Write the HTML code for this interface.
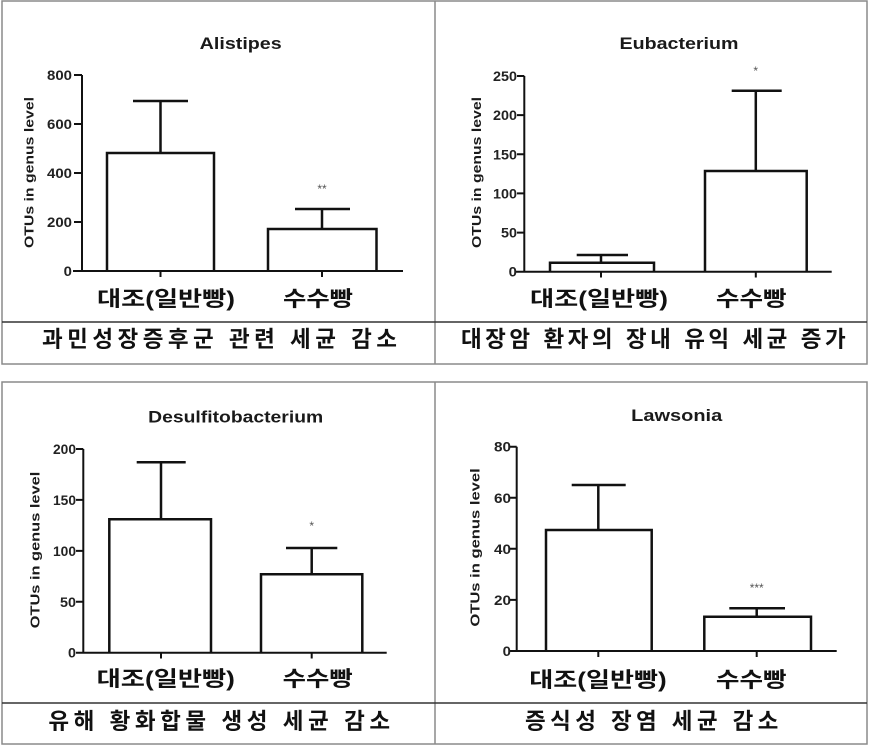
<!DOCTYPE html>
<html>
<head>
<meta charset="utf-8">
<style>
  html,body{margin:0;padding:0;background:#fff;}
  svg{display:block;}
  .t{font-family:"Liberation Sans",Arial,sans-serif;font-weight:bold;fill:#1a1a1a;}
  .tk{font-family:"Liberation Sans",Arial,sans-serif;font-weight:bold;font-size:14px;fill:#222;text-anchor:end;}
  .yl{font-family:"Liberation Sans",Arial,sans-serif;font-weight:bold;font-size:13px;fill:#1a1a1a;text-anchor:middle;}
  .kr{font-family:"Liberation Sans","Noto Sans CJK KR",sans-serif;font-weight:bold;font-size:21px;fill:#111;text-anchor:middle;}
  .cap{font-family:"Liberation Sans","Noto Sans CJK KR",sans-serif;font-weight:bold;font-size:22.5px;fill:#111;text-anchor:middle;}
  .st{font-family:"Liberation Sans",Arial,sans-serif;font-size:12px;fill:#555;text-anchor:middle;}
  .ln{fill:none;stroke:#111;stroke-width:2.5;}
  .ax{fill:none;stroke:#111;stroke-width:2;}
</style>
</head>
<body>
<svg width="870" height="746" viewBox="0 0 870 746" xmlns="http://www.w3.org/2000/svg">
  <rect x="0" y="0" width="870" height="746" fill="#fff"/>

  <!-- Table frames -->
  <rect x="2" y="1" width="865" height="363" fill="none" stroke="#8a8a8a" stroke-width="1.5"/>
  <line x1="435" y1="1" x2="435" y2="364" stroke="#8a8a8a" stroke-width="1.5"/>
  <line x1="2" y1="322" x2="867" y2="322" stroke="#333" stroke-width="1.5"/>

  <rect x="2" y="382" width="865" height="362" fill="none" stroke="#8a8a8a" stroke-width="1.5"/>
  <line x1="435" y1="382" x2="435" y2="744" stroke="#8a8a8a" stroke-width="1.5"/>
  <line x1="2" y1="703" x2="867" y2="703" stroke="#333" stroke-width="1.5"/>

  <!-- ============ Chart 1: Alistipes ============ -->
  <text class="t" x="240.7" y="49" font-size="17" text-anchor="middle" textLength="82" lengthAdjust="spacingAndGlyphs">Alistipes</text>
  <text class="yl" transform="translate(33.5,172.5) rotate(-90)" textLength="151" lengthAdjust="spacingAndGlyphs">OTUs in genus level</text>
  <path class="ax" d="M82,75 V272 M73,271 H403 M74,75 H82 M74,124 H82 M74,173 H82 M74,222 H82 M160.5,271 V277 M322,271 V277"/>
  <text class="tk" x="72" y="80" textLength="25" lengthAdjust="spacingAndGlyphs">800</text>
  <text class="tk" x="72" y="129" textLength="25" lengthAdjust="spacingAndGlyphs">600</text>
  <text class="tk" x="72" y="178" textLength="25" lengthAdjust="spacingAndGlyphs">400</text>
  <text class="tk" x="72" y="227" textLength="25" lengthAdjust="spacingAndGlyphs">200</text>
  <text class="tk" x="72" y="276" textLength="8.3" lengthAdjust="spacingAndGlyphs">0</text>
  <path class="ln" d="M107,271 V153 H214 V271 M160.5,153 V101 M133,101 H188"/>
  <path class="ln" d="M268,271 V229 H376.5 V271 M322,229 V209 M295,209 H350"/>
  <text class="st" x="322" y="193">**</text>
  <text class="kr" x="166" y="306" textLength="138" lengthAdjust="spacingAndGlyphs">대조(일반빵)</text>
  <text class="kr" x="318" y="306" textLength="70" lengthAdjust="spacingAndGlyphs">수수빵</text>
  <text class="cap" x="219.5" y="347" textLength="355" lengthAdjust="spacing">과민성장증후군 관련 세균 감소</text>

  <!-- ============ Chart 2: Eubacterium ============ -->
  <text class="t" x="679" y="49" font-size="17" text-anchor="middle" textLength="119" lengthAdjust="spacingAndGlyphs">Eubacterium</text>
  <text class="yl" transform="translate(481,172.5) rotate(-90)" textLength="151" lengthAdjust="spacingAndGlyphs">OTUs in genus level</text>
  <path class="ax" d="M524.3,76 V272.7 M516,271.7 H831.7 M517,76 H524.3 M517,115.1 H524.3 M517,154.3 H524.3 M517,193.4 H524.3 M517,232.6 H524.3 M601,271.7 V277.5 M755.8,271.7 V277.5"/>
  <text class="tk" x="517" y="81" textLength="24" lengthAdjust="spacingAndGlyphs">250</text>
  <text class="tk" x="517" y="120.1" textLength="24" lengthAdjust="spacingAndGlyphs">200</text>
  <text class="tk" x="517" y="159.3" textLength="24" lengthAdjust="spacingAndGlyphs">150</text>
  <text class="tk" x="517" y="198.4" textLength="24" lengthAdjust="spacingAndGlyphs">100</text>
  <text class="tk" x="517" y="237.6" textLength="16" lengthAdjust="spacingAndGlyphs">50</text>
  <text class="tk" x="517" y="276.7" textLength="8.3" lengthAdjust="spacingAndGlyphs">0</text>
  <path class="ln" d="M550,271.7 V262.7 H654 V271.7 M601,262.7 V255 M576.7,255 H628"/>
  <path class="ln" d="M705,271.7 V171 H806.7 V271.7 M755.8,171 V90.7 M731.7,90.7 H781.7"/>
  <text class="st" x="755.7" y="75">*</text>
  <text class="kr" x="599" y="306" textLength="138" lengthAdjust="spacingAndGlyphs">대조(일반빵)</text>
  <text class="kr" x="751.3" y="306" textLength="70.7" lengthAdjust="spacingAndGlyphs">수수빵</text>
  <text class="cap" x="653.3" y="347" textLength="384.7" lengthAdjust="spacing">대장암 환자의 장내 유익 세균 증가</text>

  <!-- ============ Chart 3: Desulfitobacterium ============ -->
  <text class="t" x="235.7" y="422.7" font-size="17" text-anchor="middle" textLength="175" lengthAdjust="spacingAndGlyphs">Desulfitobacterium</text>
  <text class="yl" transform="translate(39.5,550) rotate(-90)" textLength="156.6" lengthAdjust="spacingAndGlyphs">OTUs in genus level</text>
  <path class="ax" d="M83.3,449 V653.7 M76,652.7 H386.7 M76,449 H83.3 M76,499.9 H83.3 M76,550.9 H83.3 M76,601.8 H83.3 M161,652.7 V658.5 M311.7,652.7 V658.5"/>
  <text class="tk" x="76" y="454" textLength="23" lengthAdjust="spacingAndGlyphs">200</text>
  <text class="tk" x="76" y="504.9" textLength="23" lengthAdjust="spacingAndGlyphs">150</text>
  <text class="tk" x="76" y="555.9" textLength="23" lengthAdjust="spacingAndGlyphs">100</text>
  <text class="tk" x="76" y="606.8" textLength="16" lengthAdjust="spacingAndGlyphs">50</text>
  <text class="tk" x="76" y="657.7" textLength="8" lengthAdjust="spacingAndGlyphs">0</text>
  <path class="ln" d="M109.3,652.7 V519.3 H211 V652.7 M161,519.3 V462.3 M136.7,462.3 H185.7"/>
  <path class="ln" d="M261,652.7 V574.3 H362.3 V652.7 M311.7,574.3 V548 M286,548 H337.3"/>
  <text class="st" x="311.7" y="530">*</text>
  <text class="kr" x="165.8" y="686" textLength="138.3" lengthAdjust="spacingAndGlyphs">대조(일반빵)</text>
  <text class="kr" x="317.7" y="686" textLength="70" lengthAdjust="spacingAndGlyphs">수수빵</text>
  <text class="cap" x="219.2" y="729" textLength="341.7" lengthAdjust="spacing">유해 황화합물 생성 세균 감소</text>

  <!-- ============ Chart 4: Lawsonia ============ -->
  <text class="t" x="676.7" y="421" font-size="17" text-anchor="middle" textLength="91" lengthAdjust="spacingAndGlyphs">Lawsonia</text>
  <text class="yl" transform="translate(479.5,547.5) rotate(-90)" textLength="158.4" lengthAdjust="spacingAndGlyphs">OTUs in genus level</text>
  <path class="ax" d="M516.7,446.7 V652 M510,651 H836.7 M510,446.7 H516.7 M510,497.8 H516.7 M510,548.8 H516.7 M510,599.9 H516.7 M598.3,651 V657 M756.7,651 V657"/>
  <text class="tk" x="511" y="451.7" textLength="17" lengthAdjust="spacingAndGlyphs">80</text>
  <text class="tk" x="511" y="502.8" textLength="17" lengthAdjust="spacingAndGlyphs">60</text>
  <text class="tk" x="511" y="553.8" textLength="17" lengthAdjust="spacingAndGlyphs">40</text>
  <text class="tk" x="511" y="604.9" textLength="17" lengthAdjust="spacingAndGlyphs">20</text>
  <text class="tk" x="511" y="656" textLength="8.3" lengthAdjust="spacingAndGlyphs">0</text>
  <path class="ln" d="M546,651 V530 H651.7 V651 M598.3,530 V485 M571.7,485 H625.7"/>
  <path class="ln" d="M704.3,651 V616.7 H811 V651 M756.7,616.7 V608.3 M729.3,608.3 H785"/>
  <text class="st" x="756.7" y="592">***</text>
  <text class="kr" x="598" y="687" textLength="137.4" lengthAdjust="spacingAndGlyphs">대조(일반빵)</text>
  <text class="kr" x="751.3" y="687" textLength="70.7" lengthAdjust="spacingAndGlyphs">수수빵</text>
  <text class="cap" x="651.7" y="729" textLength="253.3" lengthAdjust="spacing">증식성 장염 세균 감소</text>
</svg>
</body>
</html>
